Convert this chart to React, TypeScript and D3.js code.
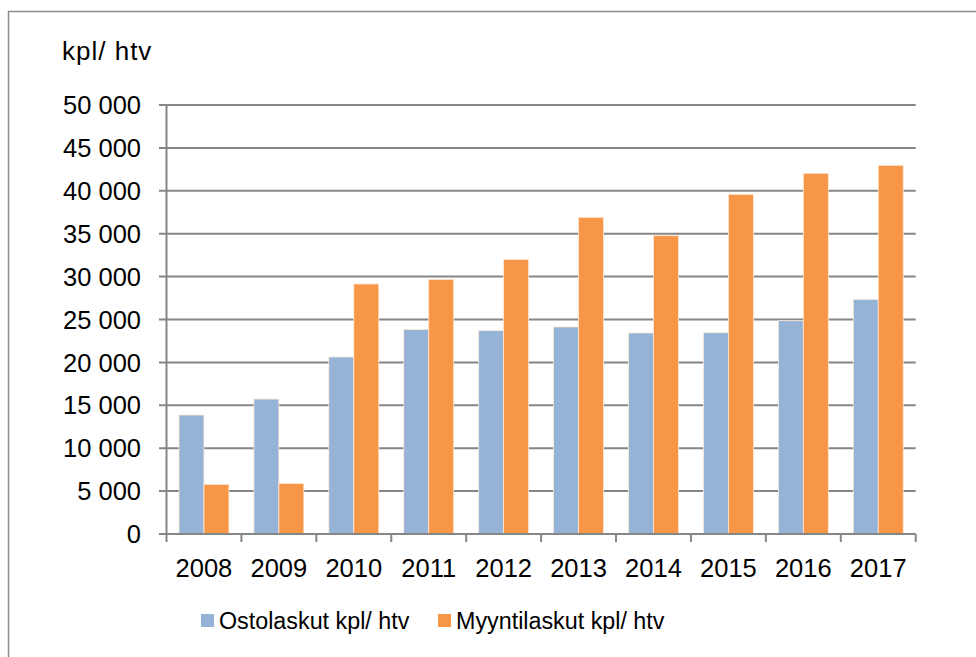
import React from "react";
import { scaleLinear, scaleBand } from "d3";

const years = ["2008", "2009", "2010", "2011", "2012", "2013", "2014", "2015", "2016", "2017"];
const ostolaskut = [13870, 15730, 20630, 23850, 23700, 24130, 23430, 23460, 24860, 27350];
const myyntilaskut = [5790, 5900, 29140, 29680, 32010, 36910, 34770, 39590, 42040, 42970];
const yTicks = [0, 5000, 10000, 15000, 20000, 25000, 30000, 35000, 40000, 45000, 50000];
const seriesNames = ["Ostolaskut kpl/ htv", "Myyntilaskut kpl/ htv"];
const colors = ["#95b3d7", "#f79646"];

const fmt = (v: number) => (v >= 1000 ? Math.floor(v / 1000) + " " + String(v % 1000).padStart(3, "0") : String(v));

export default function App() {
  const width = 976;
  const height = 657;
  const left = 166.5;
  const right = 915.7;
  const top = 105;
  const bottom = 534;
  const font = "'Liberation Sans', Arial, sans-serif";

  const x = scaleBand().domain(years).range([left, right]).paddingInner(1 / 3).paddingOuter(1 / 6);
  const y = scaleLinear().domain([0, 50000]).range([bottom, top]);
  const bw = x.bandwidth() / 2;
  const step = x.step();
  const series = [ostolaskut, myyntilaskut];

  return (
    <svg width={width} height={height} style={{ position: "absolute", left: 0, top: 0 }}>
      <rect x={0} y={0} width={width} height={height} fill="#fff" />
      <rect x={8.5} y={11.5} width={975} height={700} fill="none" stroke="#8c8c8c" strokeWidth={1.5} />
      <text x={62} y={59.5} fontFamily={font} fontSize={26} letterSpacing={1} fill="#000">kpl/ htv</text>

      {yTicks.map(t => (
        <g key={t}>
          <line x1={159} x2={right} y1={y(t)} y2={y(t)} stroke="#868686" strokeWidth={2} />
          <text x={141} y={y(t)} dy="0.36em" textAnchor="end" fontFamily={font} fontSize={25.5} fill="#000">{fmt(t)}</text>
        </g>
      ))}

      {series.map((vals, si) =>
        years.map((yr, i) => (
          <rect key={si + yr} x={(x(yr) as number) + si * bw} y={y(vals[i])} width={bw} height={bottom - y(vals[i])}
            fill={colors[si]} stroke="#fde9d9" strokeWidth={0.8} />
        ))
      )}

      <line x1={left} x2={left} y1={top} y2={bottom} stroke="#868686" strokeWidth={2} />
      <line x1={left - 7} x2={right} y1={bottom} y2={bottom} stroke="#868686" strokeWidth={2} />
      {years.concat(["end"]).map((yr, i) => (
        <line key={"t" + yr} x1={left + i * step} x2={left + i * step} y1={bottom} y2={bottom + 8} stroke="#868686" strokeWidth={2} />
      ))}
      {years.map(yr => (
        <text key={"l" + yr} x={(x(yr) as number) + x.bandwidth() / 2} y={577} textAnchor="middle" fontFamily={font} fontSize={25.5} fill="#000">{yr}</text>
      ))}

      {seriesNames.map((n, i) => {
        const lx = i === 0 ? 201 : 438;
        return (
          <g key={n}>
            <rect x={lx} y={614} width={13} height={13} fill={colors[i]} />
            <text x={lx + 18} y={629} fontFamily={font} fontSize={23.3} fill="#000">{n}</text>
          </g>
        );
      })}
    </svg>
  );
}
